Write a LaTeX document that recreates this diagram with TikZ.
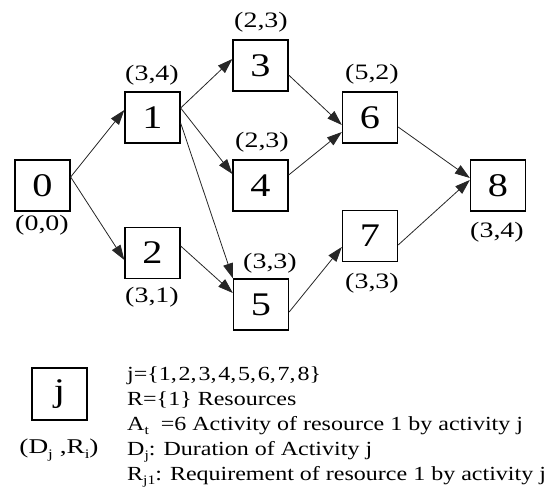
\documentclass[tikz,border=0pt]{standalone}
\usepackage{fontspec}
\usepackage{graphicx}
\setmainfont{Liberation Serif}
\usetikzlibrary{arrows.meta}
\newcommand\wt[3]{\scalebox{#1}[1]{\fontsize{#2}{#2}\selectfont #3}}
\newcommand\lowsub[1]{\raisebox{-0.2em}{\fontsize{13}{13}\selectfont #1}}
\newcommand\cm{,\kern1.5pt}
\begin{document}
\begin{tikzpicture}[x=1pt,y=-1pt,
  box/.style={draw, line width=1.3pt, minimum width=55pt, minimum height=51pt, inner sep=0pt},
  lab/.style={inner sep=0pt},
  edge/.style={line width=0.8pt, draw=black!85, -{Triangle[length=15pt,width=10pt]}},
  legline/.style={inner sep=0pt, anchor=base west}]
\useasboundingbox (0,0) rectangle (552,497);
% activity nodes
\node[box] (n0) at (42.5,185.5) {\wt{1.22}{33}{0}};
\node[box] (n1) at (152.5,117.5) {\wt{1.22}{33}{1}};
\node[box] (n2) at (152.5,253) {\wt{1.22}{33}{2}};
\node[box] (n3) at (260.5,65.5) {\wt{1.22}{33}{3}};
\node[box] (n4) at (260.5,185.5) {\wt{1.22}{33}{4}};
\node[box] (n5) at (261,304.5) {\wt{1.22}{33}{5}};
\node[box] (n6) at (370,117.5) {\wt{1.22}{33}{6}};
\node[box] (n7) at (370,236) {\wt{1.22}{33}{7}};
\node[box] (n8) at (498,185.5) {\wt{1.22}{33}{8}};
% labels
\node[lab] (l0) at (42,225) {\wt{1.27}{22}{(0,0)}};
\node[lab] (l1) at (152,75) {\wt{1.27}{22}{(3,4)}};
\node[lab] (l2) at (152,297) {\wt{1.27}{22}{(3,1)}};
\node[lab] (l3) at (261,22) {\wt{1.27}{22}{(2,3)}};
\node[lab] (l4) at (262,142) {\wt{1.27}{22}{(2,3)}};
\node[lab] (l5) at (270,263) {\wt{1.27}{22}{(3,3)}};
\node[lab] (l6) at (372,74) {\wt{1.27}{22}{(5,2)}};
\node[lab] (l7) at (372,283) {\wt{1.27}{22}{(3,3)}};
\node[lab] (l8) at (497,232) {\wt{1.27}{22}{(3,4)}};
% edges
\draw[edge] ([yshift=8.5pt]n0.east) -- ([yshift=7.5pt]n1.west);
\draw[edge] ([yshift=8.5pt]n0.east) -- ([yshift=-7pt]n2.west);
\draw[edge] ([yshift=9.5pt]n1.east) -- ([yshift=6.5pt]n3.west);
\draw[edge] ([yshift=9.5pt]n1.east) -- ([yshift=11.5pt]n4.west);
\draw[edge] ([yshift=-5.5pt]n1.east) -- (n5.north west);
\draw[edge] ([yshift=7pt]n2.east) -- ([yshift=11.5pt]n5.west);
\draw[edge] ([yshift=-9.5pt]n3.east) -- ([yshift=-7.5pt]n6.west);
\draw[edge] ([yshift=10.5pt]n4.east) -- ([yshift=-14.5pt]n6.west);
\draw[edge] ([yshift=-7.5pt]n5.east) -- ([yshift=-11pt]n7.west);
\draw[edge] ([yshift=-9.5pt]n6.east) -- ([yshift=7.5pt]n8.west);
\draw[edge] ([yshift=-9pt]n7.east) -- ([yshift=5.5pt]n8.west);
% legend
\node[box, minimum height=52pt] (lj) at (59.5,394) {\wt{1.22}{33}{j}};
\node[lab] (ldr) at (59,450) {\wt{1.3}{21}{(D\lowsub{j} ,R\lowsub{i})}};
\node[legline] (t1) at (127,380) {\wt{1.2}{20}{j=\{1\cm 2\cm 3\cm 4\cm 5\cm 6\cm 7\cm 8\}}};
\node[legline] (t2) at (127,405) {\wt{1.2}{20}{R=\{1\} Resources}};
\node[legline] (t3) at (127,430) {\wt{1.2}{20}{A\lowsub{t}\ \ =6 Activity of resource 1 by activity j}};
\node[legline] (t4) at (127,455) {\wt{1.2}{20}{D\lowsub{j}: Duration of Activity j}};
\node[legline] (t5) at (127,480) {\wt{1.2}{20}{R\lowsub{j1}: Requirement of resource 1 by activity j}};
\end{tikzpicture}
\end{document}
